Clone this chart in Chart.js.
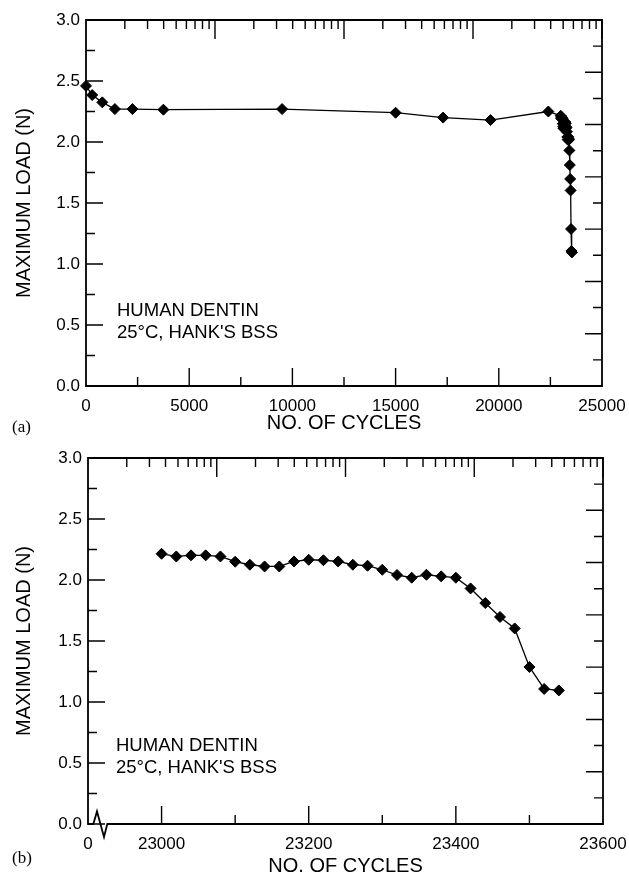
<!DOCTYPE html>
<html>
<head>
<meta charset="utf-8">
<script src="https://cdn.jsdelivr.net/npm/chart.js@4/dist/chart.umd.min.js"></script>
<style>
  html, body { margin: 0; padding: 0; background: #fff; }
  body { width: 629px; height: 875px; position: relative; overflow: hidden; }
  canvas { position: absolute; left: 0; }
  .panel { position: absolute; left: 12px; font: 17px "Liberation Serif", "Times New Roman", serif; line-height: 17px; color: #000; }
</style>
</head>
<body>
<canvas id="chartA" width="629" height="435" style="top:0px"></canvas>
<canvas id="chartB" width="629" height="440" style="top:435px"></canvas>
<div class="panel" style="top:418px">(a)</div>
<div class="panel" style="top:849px">(b)</div>
<script>
// ---------- data ----------
// long-term part of the test, panel (a)
const earlyCycles = [0, 300, 790, 1400, 2250, 3750, 9500, 15000, 17300, 19600, 22400];
const earlyLoads  = [2.46, 2.385, 2.325, 2.27, 2.27, 2.265, 2.27, 2.24, 2.20, 2.18, 2.25];
// final cycles before failure, shown in detail in panel (b)
const lateCycles = [23000, 23020, 23040, 23060, 23080, 23100, 23120, 23140, 23160, 23180,
                    23200, 23220, 23240, 23260, 23280, 23300, 23320, 23340, 23360, 23380,
                    23400, 23420, 23440, 23460, 23480, 23500, 23520, 23540];
const lateLoads  = [2.215, 2.193, 2.202, 2.202, 2.193, 2.150, 2.125, 2.111, 2.111, 2.152,
                    2.166, 2.162, 2.152, 2.125, 2.117, 2.084, 2.041, 2.019, 2.043, 2.030,
                    2.019, 1.931, 1.811, 1.697, 1.603, 1.287, 1.107, 1.095];

// axis ticks / labels
const yLabelValues = [0, 0.5, 1.0, 1.5, 2.0, 2.5, 3.0];
const yMinorValues = [0.25, 0.75, 1.25, 1.75, 2.25, 2.75];
const aXLabelValues = [0, 5000, 10000, 15000, 20000, 25000];
const aXMajorTicks = [5000, 10000, 15000, 20000];
const aXMinorTicks = [2500, 7500, 12500, 17500, 22500];
const bXLabelValues = [22900, 23000, 23200, 23400, 23600];
const bXLabelTexts  = ['0', '23000', '23200', '23400', '23600'];
const bXMajorTicks = [23000, 23200, 23400];
const bXMinorTicks = [23100, 23300, 23500];
// stray log-decade ticks on the top frame, and evenly spaced ticks on the right frame
const logDecades = [1, 10, 100, 1000];
const logMultipliers = [2, 3, 4, 5, 6, 7, 8, 9];
const rightTickValues = [1, 2, 3, 4, 5, 6, 7, 8, 9, 10, 11, 12, 13];

const noteLines = ['HUMAN DENTIN', '25\u00B0C, HANK\'S BSS'];
const yTitle = 'MAXIMUM LOAD (N)';
const xTitle = 'NO. OF CYCLES';

// ---------- drawing ----------
const FONT = '"Liberation Sans", Arial, Helvetica, sans-serif';

const decor = {
  id: 'decor',
  beforeDatasetsDraw(chart, args, o) {
    const ctx = chart.ctx, a = chart.chartArea;
    const sx = chart.scales.x, sy = chart.scales.y, st = chart.scales.xTop, sr = chart.scales.yR;
    ctx.save();
    ctx.strokeStyle = '#000';
    ctx.lineWidth = 1.4;
    ctx.beginPath();
    const seg = (x1, y1, x2, y2) => { ctx.moveTo(x1, y1); ctx.lineTo(x2, y2); };
    o.xMajor.forEach(v => { const p = sx.getPixelForValue(v); seg(p, a.bottom, p, a.bottom - 18); });
    o.xMinor.forEach(v => { const p = sx.getPixelForValue(v); seg(p, a.bottom, p, a.bottom - 9); });
    yLabelValues.forEach(v => { const p = sy.getPixelForValue(v); seg(a.left, p, a.left + 17, p); });
    yMinorValues.forEach(v => { const p = sy.getPixelForValue(v); seg(a.left, p, a.left + 9, p); });
    rightTickValues.forEach(v => {
      const p = sr.getPixelForValue(v);
      seg(a.right, p, a.right - (v % 2 === 0 ? 17 : 9), p);
    });
    logDecades.forEach(d => {
      logMultipliers.forEach(m => { const p = st.getPixelForValue(d * m); seg(p, a.top, p, a.top + 9); });
      const q = st.getPixelForValue(d * 10); seg(q, a.top, q, a.top + 19);
    });
    ctx.stroke();

    // frame
    ctx.lineWidth = 1.8;
    ctx.lineJoin = 'miter';
    ctx.beginPath();
    ctx.moveTo(a.left, a.top);
    ctx.lineTo(a.right, a.top);
    ctx.lineTo(a.right, a.bottom);
    if (o.zigzag) {
      ctx.lineTo(a.left + 19.3, a.bottom);
      ctx.lineTo(a.left + 16, a.bottom + 13);
      ctx.lineTo(a.left + 9, a.bottom - 12.6);
      ctx.lineTo(a.left + 5.3, a.bottom);
    }
    ctx.lineTo(a.left, a.bottom);
    ctx.closePath();
    ctx.stroke();

    // annotation
    ctx.fillStyle = '#000';
    ctx.font = '18.5px ' + FONT;
    ctx.textAlign = 'left';
    ctx.textBaseline = 'alphabetic';
    ctx.fillText(noteLines[0], a.left + o.noteDx, a.bottom - o.noteDy1);
    ctx.fillText(noteLines[1], a.left + o.noteDx, a.bottom - o.noteDy2);
    ctx.restore();
  }
};

function makeChart(id, cfg) {
  const pts = cfg.cycles.map((c, i) => ({ x: c, y: cfg.loads[i] }));
  return new Chart(document.getElementById(id), {
    type: 'line',
    data: {
      datasets: [{
        data: pts,
        borderColor: '#000',
        borderWidth: 1.3,
        backgroundColor: '#000',
        pointStyle: 'rectRot',
        pointRadius: 5.5,
        pointBorderWidth: 1,
        pointBackgroundColor: '#000',
        pointBorderColor: '#000',
        tension: 0,
        clip: false
      }]
    },
    options: {
      responsive: false,
      animation: false,
      events: [],
      layout: { padding: cfg.padding },
      plugins: {
        legend: { display: false },
        tooltip: { enabled: false },
        decor: cfg.decor
      },
      scales: {
        x: {
          type: 'linear',
          position: 'bottom',
          min: cfg.xMin, max: cfg.xMax,
          grid: { display: false, drawTicks: false },
          border: { display: false },
          afterBuildTicks: s => { s.ticks = cfg.xLabelValues.map(v => ({ value: v })); },
          afterFit: s => { s.height = cfg.xAxisHeight; s.paddingLeft = 0; s.paddingRight = 0; },
          ticks: {
            color: '#000', padding: 10, maxRotation: 0, autoSkip: false,
            font: { family: FONT, size: 17 },
            callback: (v, i) => cfg.xLabelText(v, i)
          },
          title: {
            display: true, text: xTitle, color: '#000',
            font: { family: FONT, size: 20 },
            padding: { top: 0, bottom: cfg.xTitlePad }
          }
        },
        xTop: {
          type: 'logarithmic', axis: 'x', position: 'top', display: false,
          min: 1, max: 10000
        },
        y: {
          type: 'linear',
          position: 'left',
          min: 0, max: 3,
          grid: { display: false, drawTicks: false },
          border: { display: false },
          afterBuildTicks: s => { s.ticks = yLabelValues.map(v => ({ value: v })); },
          afterFit: s => { s.width = cfg.yAxisWidth; s.paddingTop = 0; s.paddingBottom = 0; },
          ticks: {
            color: '#000', padding: 6,
            font: { family: FONT, size: 17 },
            callback: v => Number(v).toFixed(1)
          },
          title: {
            display: true, text: yTitle, color: '#000',
            font: { family: FONT, size: 20 },
            padding: { top: 12, bottom: 0 }
          }
        },
        yR: {
          type: 'linear', axis: 'y', position: 'right', display: false,
          min: 0, max: 14
        }
      }
    },
    plugins: [decor]
  });
}

makeChart('chartA', {
  cycles: earlyCycles.concat(lateCycles),
  loads: earlyLoads.concat(lateLoads),
  xMin: 0, xMax: 25000,
  xLabelValues: aXLabelValues,
  xLabelText: (v) => String(v),
  padding: { left: 0, top: 20, right: 27, bottom: 0 },
  xAxisHeight: 49, yAxisWidth: 86, xTitlePad: 0,
  decor: { xMajor: aXMajorTicks, xMinor: aXMinorTicks, zigzag: false, noteDx: 31, noteDy1: 70, noteDy2: 48.5 }
});

makeChart('chartB', {
  cycles: lateCycles,
  loads: lateLoads,
  xMin: 22900, xMax: 23600,
  xLabelValues: bXLabelValues,
  xLabelText: (v, i) => bXLabelTexts[i],
  padding: { left: 0, top: 23, right: 26, bottom: 0 },
  xAxisHeight: 51, yAxisWidth: 88, xTitlePad: -3,
  decor: { xMajor: bXMajorTicks, xMinor: bXMinorTicks, zigzag: true, noteDx: 28, noteDy1: 72.6, noteDy2: 51 }
});
</script>
</body>
</html>
